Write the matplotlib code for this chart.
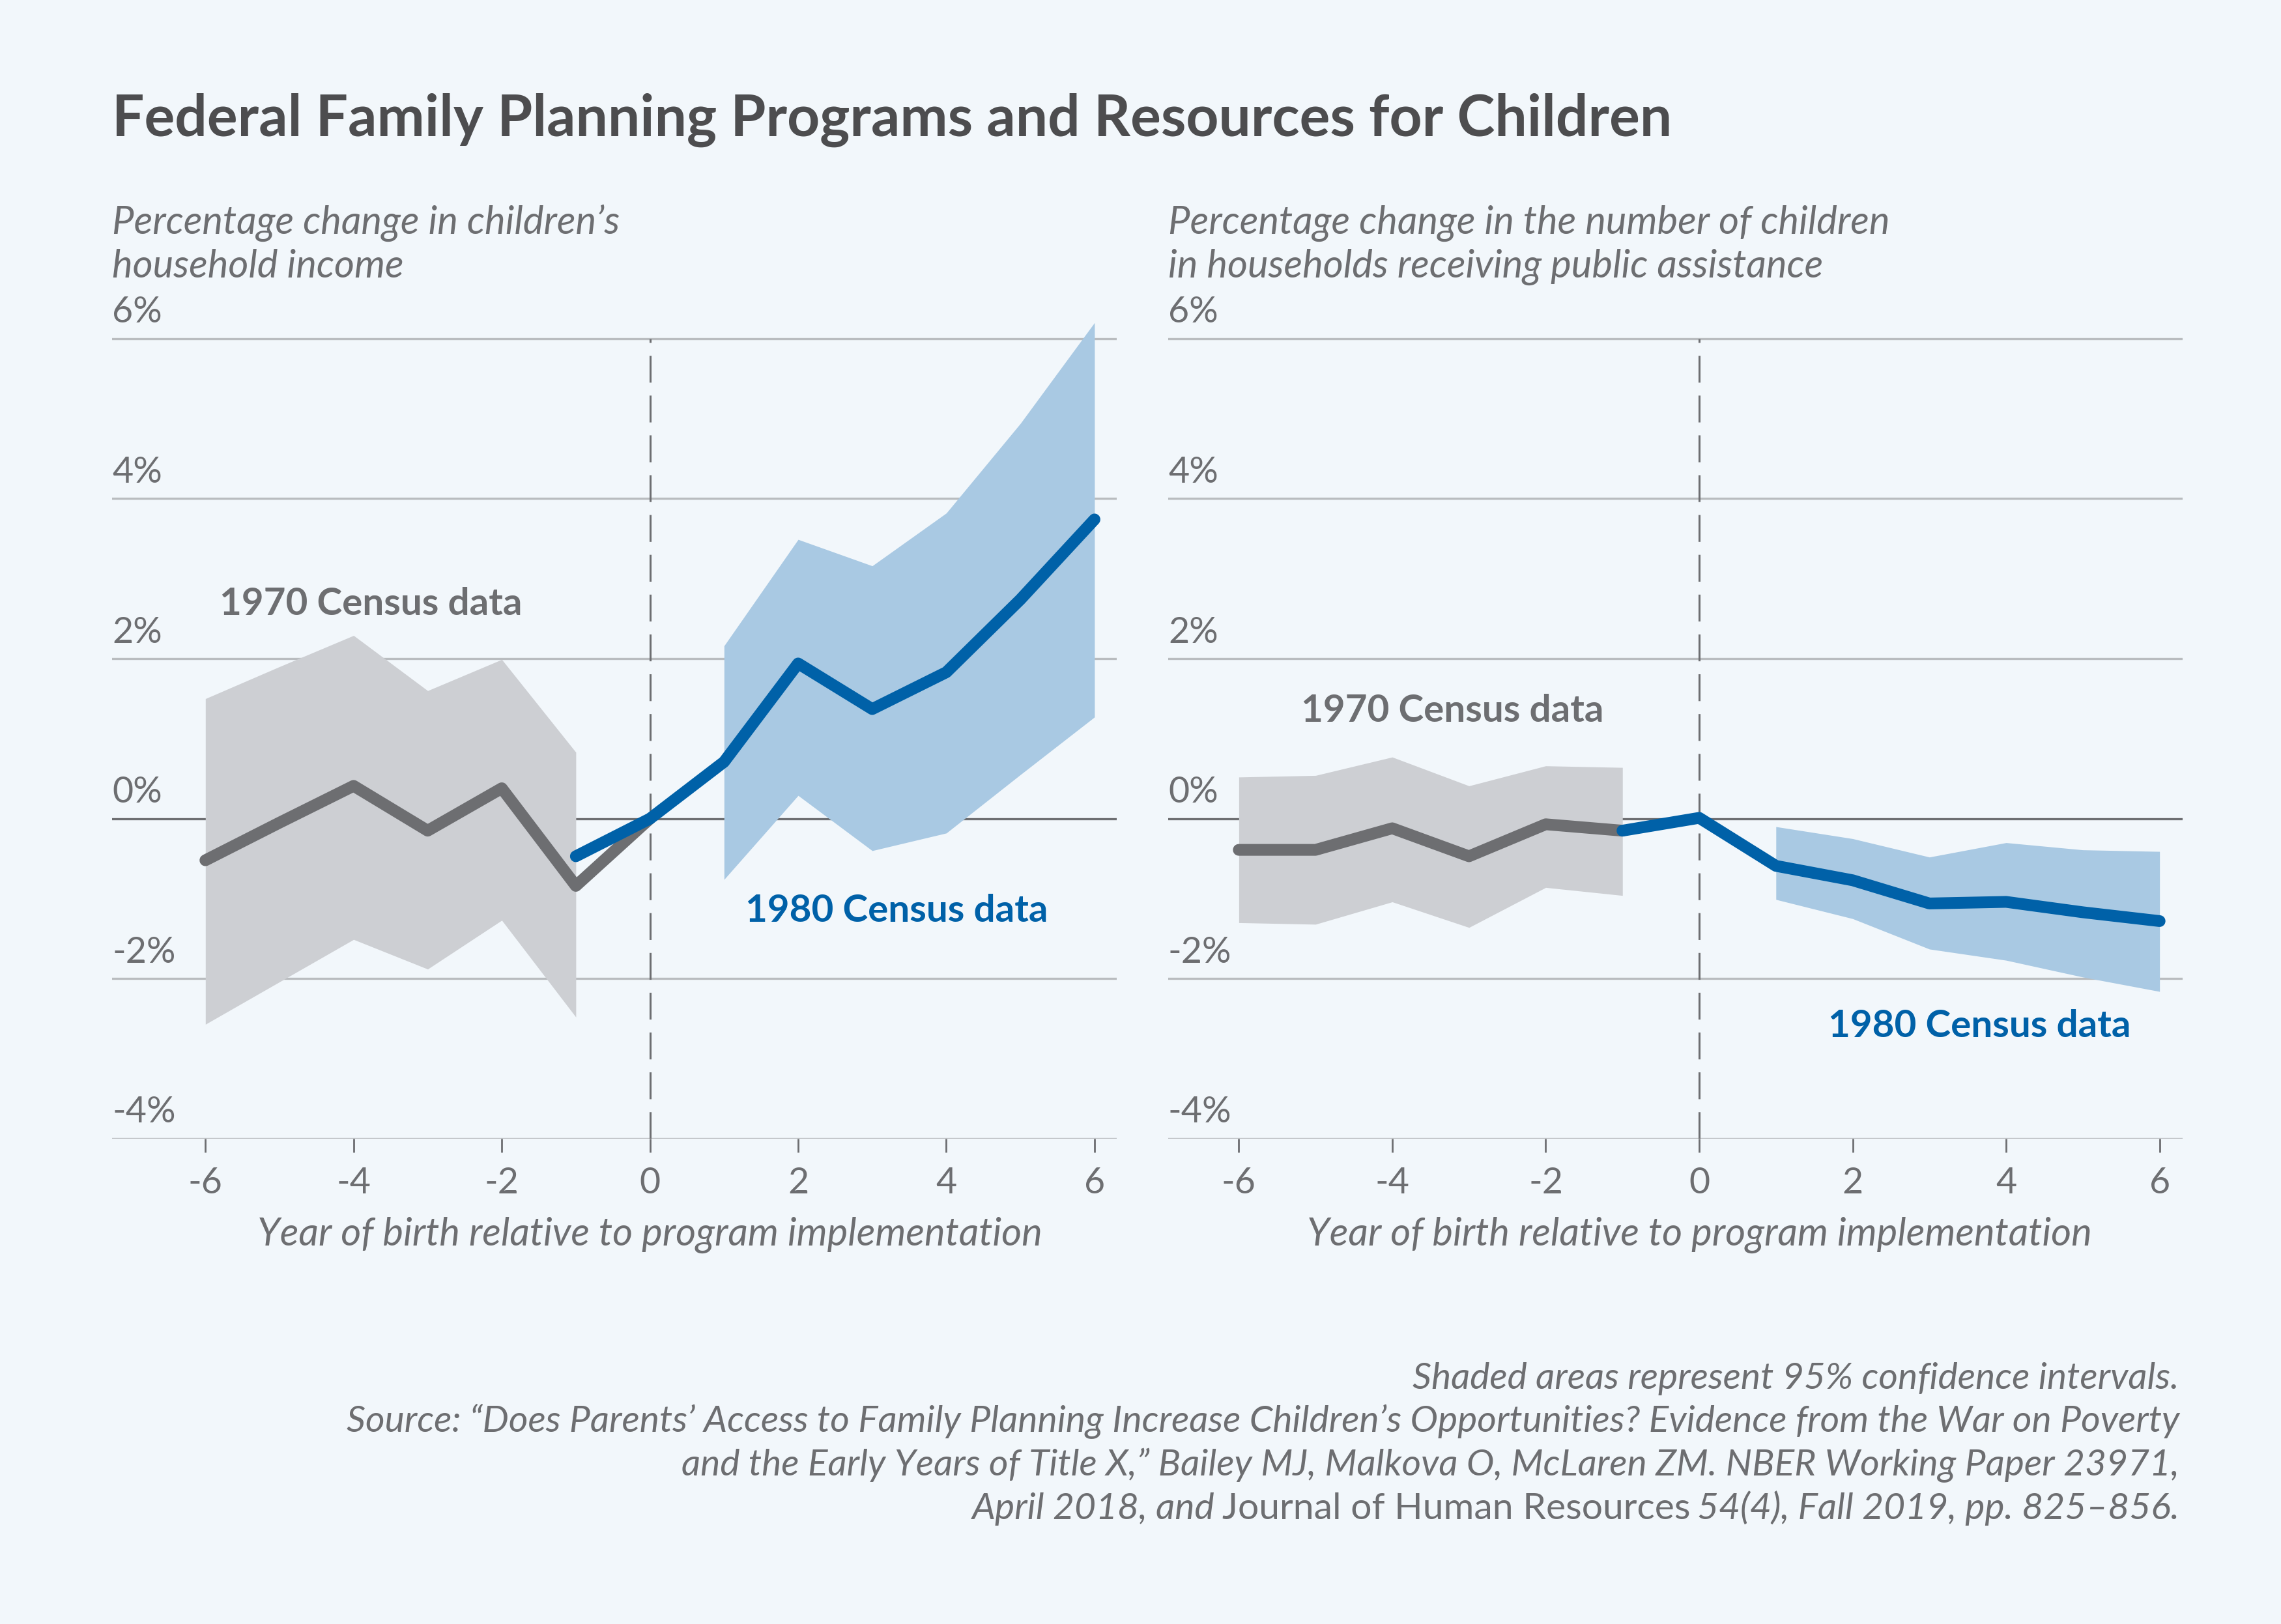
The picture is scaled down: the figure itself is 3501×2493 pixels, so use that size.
import matplotlib.pyplot as plt
import matplotlib.transforms as mtransforms

plt.rcParams['font.family'] = ['Lato', 'DejaVu Sans']

BG = '#f2f7fb'
TXT = '#6d6e71'
TITLE = '#4d4d4f'
GRID = '#b9bcbf'
BLUE = '#0061a8'
BLUE_FILL = '#a9c9e3'
GRAY_LINE = '#6d6e71'
GRAY_FILL = '#cdcfd3'

# data (percent)
yrs_1970 = [-6, -5, -4, -3, -2, -1]
yrs_1980 = [1, 2, 3, 4, 5, 6]

# left: children's household income
inc_1970_x = [-6, -5, -4, -3, -2, -1, 0]
inc_1970 = [-0.52, -0.05, 0.41, -0.15, 0.38, -0.84, 0.0]
inc_1970_hi = [1.5, 1.9, 2.29, 1.6, 1.99, 0.83]
inc_1970_lo = [-2.57, -2.04, -1.51, -1.88, -1.27, -2.48]
inc_1980_x = [-1, 0, 1, 2, 3, 4, 5, 6]
inc_1980 = [-0.47, 0.0, 0.71, 1.94, 1.37, 1.83, 2.74, 3.74]
inc_1980_hi = [2.16, 3.49, 3.16, 3.82, 4.94, 6.2]
inc_1980_lo = [-0.76, 0.29, -0.40, -0.18, 0.55, 1.27]

# right: children in households receiving public assistance
pa_1970_x = [-6, -5, -4, -3, -2, -1]
pa_1970 = [-0.39, -0.39, -0.12, -0.47, -0.07, -0.15]
pa_1970_hi = [0.52, 0.54, 0.77, 0.41, 0.66, 0.64]
pa_1970_lo = [-1.30, -1.32, -1.04, -1.36, -0.86, -0.96]
pa_1980_x = [-1, 0, 1, 2, 3, 4, 5, 6]
pa_1980 = [-0.15, 0.01, -0.59, -0.77, -1.06, -1.04, -1.17, -1.28]
pa_1980_hi = [-0.10, -0.25, -0.48, -0.30, -0.39, -0.41]
pa_1980_lo = [-1.01, -1.25, -1.63, -1.77, -1.98, -2.16]

yticks = [-4, -2, 0, 2, 4, 6]
xticks = [-6, -4, -2, 0, 2, 4, 6]

subtitles = [["Percentage change in children\u2019s", "household income"],
             ["Percentage change in the number of children",
              "in households receiving public assistance"]]
xlabel = "Year of birth relative to program implementation"

FS = 40      # tick labels
FS_TXT = 42  # subtitles, labels, notes

W, H = 3501, 2493
fig = plt.figure(figsize=(W / 100, H / 100), dpi=100, facecolor=BG)

ax_l = fig.add_axes([172 / W, 1 - 1748 / H, 1542 / W, (1748 - 483) / H])
ax_r = fig.add_axes([1793 / W, 1 - 1748 / H, 1557 / W, (1748 - 483) / H])


def setup(ax, xlim, subtitle):
    ax.set_facecolor(BG)
    ax.set_xlim(*xlim)
    ax.set_ylim(-4, 6.3)
    for s in ax.spines.values():
        s.set_visible(False)
    for y in yticks:
        ax.axhline(y, color=GRAY_LINE if y == 0 else GRID, lw=2.4, zorder=1)
        ax.text(0, y + 0.2, f"{y}%", transform=mtransforms.blended_transform_factory(ax.transAxes, ax.transData),
                ha='left', va='baseline', fontsize=FS, color=TXT)
    ax.set_yticks([])
    ax.set_xticks(xticks)
    ax.set_xticklabels([str(x) for x in xticks])
    ax.tick_params(axis='x', direction='out', length=15, width=2, color=TXT,
                   labelsize=FS, labelcolor=TXT, pad=16)
    ax.plot([0, 0], [-4, 6], color=GRAY_LINE, lw=2.2, ls=(0, (13.5, 6.5)), zorder=2)
    tr = mtransforms.blended_transform_factory(ax.transData, fig.transFigure)
    ax.text(0, 1 - 1912 / H, xlabel, transform=tr, ha='center', va='baseline',
            fontsize=FS_TXT + 1, style='italic', color=TXT)
    x0 = ax.get_position().x0
    for i, line in enumerate(subtitle):
        fig.text(x0, 1 - (359 + 67 * i) / H, line, ha='left', va='baseline',
                 fontsize=FS_TXT + 1, style='italic', color=TXT)


setup(ax_l, (-7.26, 6.30), subtitles[0])
setup(ax_r, (-6.92, 6.30), subtitles[1])

# left panel
ax_l.fill_between(yrs_1970, inc_1970_lo, inc_1970_hi, color=GRAY_FILL, lw=0, zorder=3)
ax_l.fill_between(yrs_1980, inc_1980_lo, inc_1980_hi, color=BLUE_FILL, lw=0, zorder=3)
ax_l.plot(inc_1970_x, inc_1970, color=GRAY_LINE, lw=13, solid_capstyle='round', zorder=4)
ax_l.plot(inc_1980_x, inc_1980, color=BLUE, lw=13, solid_capstyle='round', zorder=5)
ax_l.text(-5.81, 2.55, "1970 Census data", fontsize=FS_TXT, fontweight='bold', color=GRAY_LINE,
          ha='left', va='baseline')
ax_l.text(1.29, -1.29, "1980 Census data", fontsize=FS_TXT, fontweight='bold', color=BLUE,
          ha='left', va='baseline')

# right panel
ax_r.fill_between(yrs_1970, pa_1970_lo, pa_1970_hi, color=GRAY_FILL, lw=0, zorder=3)
ax_r.fill_between(yrs_1980, pa_1980_lo, pa_1980_hi, color=BLUE_FILL, lw=0, zorder=3)
ax_r.plot(pa_1970_x, pa_1970, color=GRAY_LINE, lw=13, solid_capstyle='round', zorder=4)
ax_r.plot(pa_1980_x, pa_1980, color=BLUE, lw=13, solid_capstyle='round', zorder=5)
ax_r.text(-5.19, 1.21, "1970 Census data", fontsize=FS_TXT, fontweight='bold', color=GRAY_LINE,
          ha='left', va='baseline')
ax_r.text(1.68, -2.73, "1980 Census data", fontsize=FS_TXT, fontweight='bold', color=BLUE,
          ha='left', va='baseline')

# title
fig.text(172 / W, 1 - 209 / H, "Federal Family Planning Programs and Resources for Children",
         ha='left', va='baseline', fontsize=63, fontweight='bold', color=TITLE)

# footnotes
xr = 3345 / W
notes = ["Shaded areas represent 95% confidence intervals.",
         "Source: \u201cDoes Parents\u2019 Access to Family Planning Increase Children\u2019s "
         "Opportunities? Evidence from the War on Poverty",
         "and the Early Years of Title X,\u201d Bailey MJ, Malkova O, McLaren ZM. "
         "NBER Working Paper 23971,"]
for i, line in enumerate(notes):
    fig.text(xr, 1 - (2132 + 66.5 * i) / H, line, ha='right', va='baseline',
             fontsize=41, style='italic', color=TXT)

# last line mixes italic and upright text
r = fig.canvas.get_renderer()
y_last = 1 - (2132 + 66.5 * 3) / H
gap = 11 / W
x = xr
for part, st in [("54(4), Fall 2019, pp. 825\u2013856.", 'italic'),
                 ("Journal of Human Resources", 'normal'),
                 ("April 2018, and", 'italic')]:
    t = fig.text(x, y_last, part, ha='right', va='baseline', fontsize=41, style=st, color=TXT)
    x = t.get_window_extent(r).x0 / fig.bbox.width - gap

fig.savefig("out.png", dpi=100, facecolor=BG)
